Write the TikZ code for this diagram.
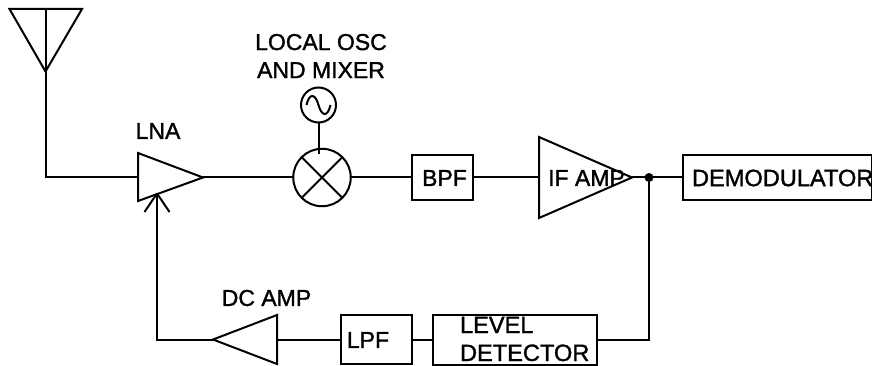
\documentclass[tikz,border=0pt]{standalone}
\usepackage{fontspec}
\setmainfont[FakeBold=1.4]{Liberation Sans}
\usetikzlibrary{calc}
\begin{document}
\begin{tikzpicture}[x=1pt,y=-1pt,line width=2pt,line join=miter,
  lab/.style={font=\fontsize{23}{28}\selectfont,inner sep=0pt,align=center,text=black},
  wide/.style={font=\fontsize{23.6}{28}\selectfont},
  boxn/.style={draw,rectangle,inner sep=0pt,outer sep=0pt,anchor=north west},
  ring/.style={draw,circle,inner sep=0pt,outer sep=0pt}]
\useasboundingbox (0,0) rectangle (872,366);
% reference points
\coordinate (antTip) at (45.5,71.5);
\coordinate (antTop) at (45.5,9);
\coordinate (antCorner) at (45.5,177.5);
\coordinate (lnaIn) at (138,177.5);
\coordinate (lnaOut) at (203,177.5);
\coordinate (ifIn) at (539,177.5);
\coordinate (ifOut) at (632,177.5);
\coordinate (dcTip) at (213,339.5);
\coordinate (dcIn) at (277,339.5);
\coordinate (fbCorner) at (157,339.5);
\coordinate (lnaCtl) at (157,193.5);
\coordinate (tap) at (649,177.5);
\coordinate (tapCorner) at (649,339.5);
% blocks
\node[ring,minimum size=57.5pt] (mix) at (322,177.5) {};
\node[ring,minimum size=35pt] (osc) at (318.5,105) {};
\node[boxn,minimum width=61pt,minimum height=45pt] (bpf) at (412,155) {};
\node[lab] (bpft) at (444.5,178) {BPF};
\node[boxn,minimum width=189pt,minimum height=44pt] (demod) at (683,155.5) {};
\node[lab,wide,anchor=west] (demodt) at (691,178) {DEMODULATOR};
\node[boxn,minimum width=71pt,minimum height=49pt] (lpf) at (341,315) {};
\node[lab] (lpft) at (368,340) {LPF};
\node[boxn,minimum width=164pt,minimum height=50pt] (det) at (433,314.5) {};
\node[lab,wide,align=left,anchor=west] (dett) at (459,339) {LEVEL\\DETECTOR};
% connectors
\draw (antTop) -- (antCorner) -- (lnaIn);
\draw (lnaOut) -- (mix.west);
\draw (mix.east) -- (bpf.west);
\draw (bpf.east) -- (ifIn);
\draw (ifOut) -- (demod.west);
\draw (tap) -- (tapCorner) -- (det.east);
\draw (det.west) -- (lpf.east);
\draw (lpf.west) -- (dcIn);
\draw (dcTip) -- (fbCorner) -- (lnaCtl);
\draw (lnaCtl) -- ++(-12.5,18.5);
\draw (lnaCtl) -- ++(12.5,18.5);
\draw (osc.south) -- (318.5,154);
\fill (tap) circle (4.5pt);
% antenna, amplifiers
\draw (9.5,9) -- (82,9) -- (antTip) -- cycle;
\draw (138,153) -- (lnaOut) -- (138,201) -- cycle;
\draw (539,137) -- (ifOut) -- (539,218) -- cycle;
\draw (277,315) -- (dcTip) -- (277,364) -- cycle;
% mixer cross
\draw ($(mix.center)+(-20,-20)$) -- ($(mix.center)+(20,20)$);
\draw ($(mix.center)+(20,-20)$) -- ($(mix.center)+(-20,20)$);
% oscillator wave
\draw ($(osc.center)+(-12,0)$) .. controls ($(osc.center)+(-9,-13)$) and ($(osc.center)+(-3,-11)$) .. (osc.center) .. controls ($(osc.center)+(3,11)$) and ($(osc.center)+(9,13)$) .. ($(osc.center)+(12,0)$);
% labels
\node[lab] (lo) at (321,56) {LOCAL OSC\\AND MIXER};
\node[lab] (lna) at (158,131) {LNA};
\node[lab] (ift) at (586.5,178) {IF AMP};
\node[lab] (dct) at (266.5,298) {DC AMP};
\end{tikzpicture}
\end{document}
